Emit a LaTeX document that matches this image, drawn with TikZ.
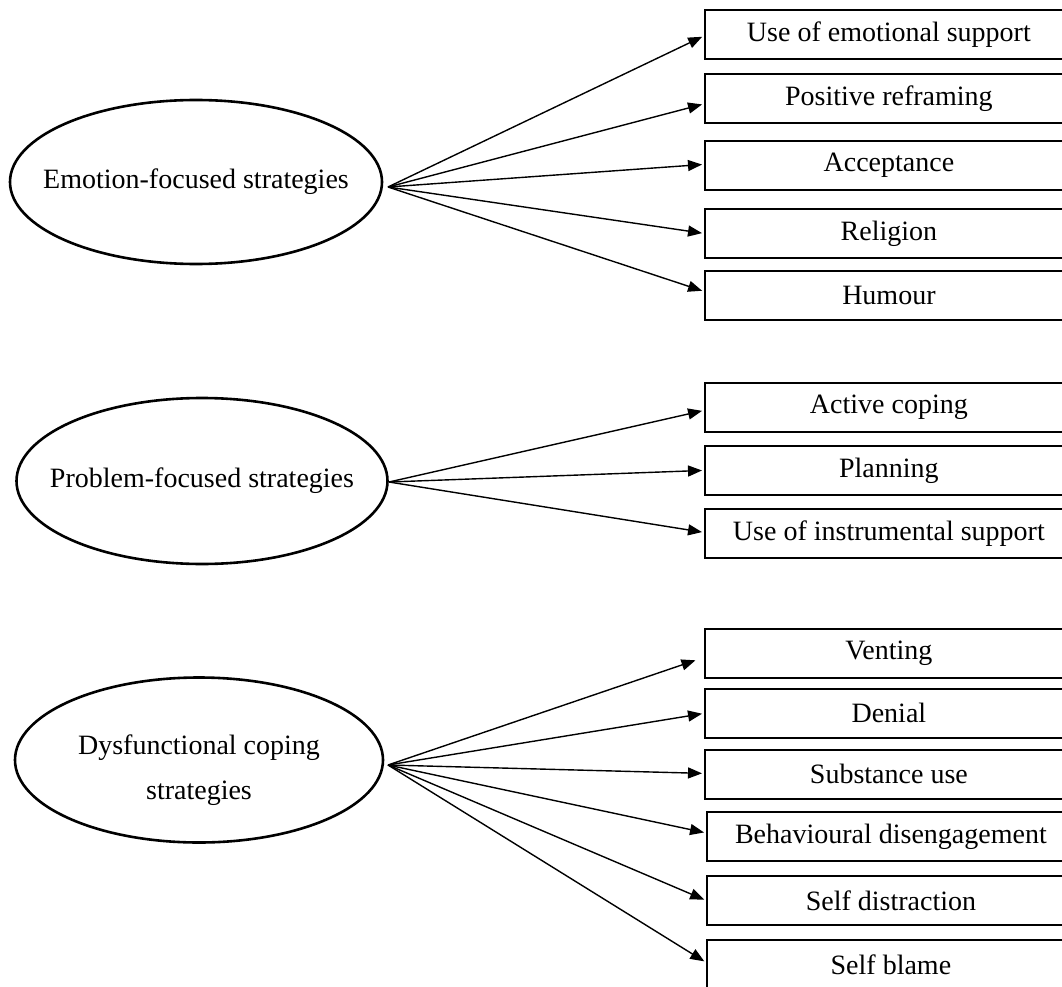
\documentclass[tikz,border=0pt]{standalone}
\usepackage{fontspec}
\setmainfont{Liberation Serif}
\usetikzlibrary{shapes.geometric,arrows.meta}
\begin{document}
\begin{tikzpicture}[x=1pt,y=-1pt,
  every node/.style={font=\fontsize{28}{45}\selectfont},
  box/.style={draw,line width=1.8pt,minimum width=368pt,minimum height=49pt,inner sep=0pt,anchor=north west},
  oval/.style={draw,ellipse,line width=2.6pt,inner xsep=-40pt,inner ysep=0pt,align=center},
  link/.style={line width=1.4pt,-{Triangle[length=14pt,width=11pt]},shorten >=2pt}]
\useasboundingbox (0,0) rectangle (1062,987);

% ellipses
\node[oval,minimum width=372pt,minimum height=164pt] (e1) at (196,182) {Emotion-focused strategies};
\node[oval,minimum width=371pt,minimum height=166pt] (e2) at (202,481) {Problem-focused strategies};
\node[oval,minimum width=368pt,minimum height=165pt] (e3) at (199,760) {};
\node[align=center,inner sep=0pt] (t3) at (199,770) {Dysfunctional coping\\strategies};

\coordinate (h1) at (388,187);
\coordinate (h2) at (389,482);
\coordinate (h3) at (388,765);

% boxes
\node[box] (b1) at (704,9) {Use of emotional support};
\node[box] (b2) at (704,73) {Positive reframing};
\node[box] (b3) at (704,140) {Acceptance};
\node[box] (b4) at (704,208) {Religion};
\node[box] (b5) at (704,270) {Humour};
\node[box] (b6) at (704,382) {Active coping};
\node[box] (b7) at (704,445) {Planning};
\node[box] (b8) at (704,508) {Use of instrumental support};
\node[box] (b9) at (704,628) {Venting};
\node[box] (b10) at (704,688) {Denial};
\node[box] (b11) at (704,749) {Substance use};
\node[box] (b12) at (706,811) {Behavioural disengagement};
\node[box] (b13) at (706,875) {Self distraction};
\node[box] (b14) at (706,939) {Self blame};

% connectors
\draw[link] (h1) -- ([yshift=-1.5pt]b1.west);
\draw[link] (h1) -- ([yshift=-5.5pt]b2.west);
\draw[link] (h1) -- ([yshift=1pt]b3.west);
\draw[link] (h1) -- (b4.west);
\draw[link] (h1) -- ([yshift=4pt]b5.west);

\draw[link] (h2) -- ([yshift=-3pt]b6.west);
\draw[link] (h2) -- (b7.west);
\draw[link] (h2) -- ([yshift=1pt]b8.west);

\draw[link,shorten >=9pt] (h3) -- ([yshift=-4pt]b9.west);
\draw[link] (h3) -- (b10.west);
\draw[link] (h3) -- ([yshift=1pt]b11.west);
\draw[link] (h3) -- ([yshift=3.5pt]b12.west);
\draw[link] (h3) -- (b13.west);
\draw[link] (h3) -- ([yshift=2pt]b14.west);
\end{tikzpicture}
\end{document}
